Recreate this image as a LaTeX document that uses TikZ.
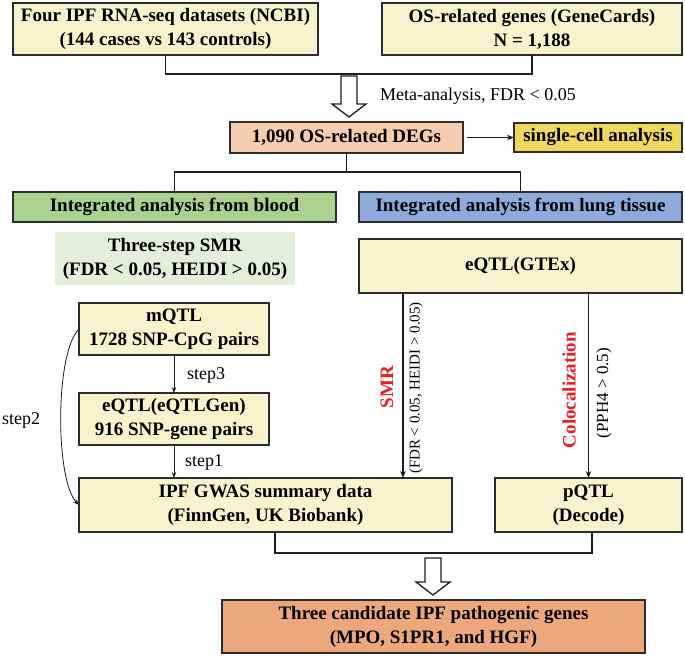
\documentclass[tikz,border=0pt]{standalone}
\usepackage{fontspec}
\setmainfont{Liberation Serif}
\usetikzlibrary{arrows.meta,calc}
\definecolor{cream}{RGB}{249,243,205}
\definecolor{degsfill}{RGB}{246,205,176}
\definecolor{cellfill}{RGB}{239,216,98}
\definecolor{bloodfill}{RGB}{168,210,142}
\definecolor{lungfill}{RGB}{143,170,220}
\definecolor{smrfill}{RGB}{226,240,217}
\definecolor{finalfill}{RGB}{236,168,124}
\definecolor{boxline}{RGB}{45,45,45}
\definecolor{linecol}{RGB}{30,30,30}
\definecolor{redlab}{RGB}{235,30,35}
\begin{document}
\begin{tikzpicture}[x=1pt,y=-1pt,
  base/.style={draw=boxline, line width=1.5pt, inner sep=0pt, outer sep=0pt, align=center,
    font=\fontsize{19}{24}\selectfont\bfseries},
  creambox/.style={base, fill=cream},
  link/.style={draw=linecol, line width=1.5pt},
  arr/.style={draw=linecol, line width=1.3pt, -{Stealth[length=7pt,width=5.5pt]}},
  thinarr/.style={draw=linecol, line width=0.8pt, -{Stealth[length=6pt,width=4.5pt]}},
  lbl/.style={font=\fontsize{18}{20}\selectfont},
  hollow/.style={draw=linecol, line width=1.3pt, fill=white, line join=miter}
]
\useasboundingbox (0,0) rectangle (685,656);
\fill[white] (0,0) rectangle (685,656);

% top boxes
\node[creambox, minimum width=305pt, minimum height=52pt] (box1) at (165.5,29)
  {Four IPF RNA-seq datasets (NCBI)\\(144 cases vs 143 controls)};
\node[creambox, minimum width=300pt, minimum height=52pt] (box2) at (532,29)
  {OS-related genes (GeneCards)\\N = 1,188};
\draw[link] (box1.south) -- ++(0,19) -| (box2.south);

% hollow arrow 1
\draw[hollow] (341,76) -- (357,76) -- (357,104) -- (366,104) -- (349,117) -- (332,104) -- (341,104) -- cycle;
\node[lbl, anchor=west, inner sep=0pt] (meta) at (380,96) {Meta-analysis, FDR < 0.05};

% DEGs
\node[base, fill=degsfill, minimum width=233pt, minimum height=31pt] (degs) at (346.5,137.5)
  {1,090 OS-related DEGs};
\node[base, fill=cellfill, minimum width=168pt, minimum height=29pt] (cell) at (598,137.5)
  {single-cell analysis};
\draw[arr, shorten <=4pt] (degs.east) -- (cell.west);

% branch
\node[base, fill=bloodfill, minimum width=323pt, minimum height=30pt] (blood) at (174.5,207)
  {Integrated analysis from blood};
\node[base, fill=lungfill, minimum width=323pt, minimum height=30pt] (lung) at (520.5,207)
  {Integrated analysis from lung tissue};
\coordinate (br) at (346.5,172);
\draw[link] (degs.south) -- (br);
\draw[link] (blood.north) |- (br) -| (lung.north);

% left column
\node[base, draw=none, fill=smrfill, minimum width=240pt, minimum height=53pt] (smr3) at (175,258.5)
  {Three-step SMR\\(FDR < 0.05, HEIDI > 0.05)};
\node[creambox, minimum width=190pt, minimum height=52pt] (mqtl) at (174,329)
  {mQTL\\1728 SNP-CpG pairs};
\node[creambox, minimum width=190pt, minimum height=52pt] (eqgen) at (174,419)
  {eQTL(eQTLGen)\\916 SNP-gene pairs};
\node[creambox, minimum width=373pt, minimum height=54pt] (gwas) at (265.5,505)
  {IPF GWAS summary data\\(FinnGen, UK Biobank)};

\draw[thinarr] (mqtl.south) -- (eqgen.north);
\draw[thinarr] (eqgen.south) -- (eqgen.south |- gwas.north);
\draw[thinarr] (mqtl.west) .. controls (55,352) and (55,480) .. (gwas.west);
\node[lbl] (s3) at (206,375) {step3};
\node[lbl] (s1) at (204,462) {step1};
\node[lbl] (s2) at (21,420) {step2};

% right column
\node[creambox, minimum width=323pt, minimum height=54pt] (gtex) at (520.5,266)
  {eQTL(GTEx)};
\node[creambox, minimum width=187pt, minimum height=54pt] (pqtl) at (588.5,505)
  {pQTL\\(Decode)};
\coordinate (smrx) at (403,0);
\draw[arr] (gtex.south -| smrx) -- (gwas.north -| smrx);
\draw[arr] (gtex.south -| pqtl.north) -- (pqtl.north);
\node[rotate=90, text=redlab, font=\fontsize{19}{20}\selectfont\bfseries] (smrlab) at (387,387) {SMR};
\node[rotate=90, font=\fontsize{15}{16}\selectfont] (smrcond) at (416,388) {(FDR < 0.05, HEIDI > 0.05)};
\node[rotate=90, text=redlab, font=\fontsize{19}{20}\selectfont\bfseries] (colab) at (569,390) {Colocalization};
\node[rotate=90, font=\fontsize{17}{18}\selectfont] (cocond) at (604,393) {(PPH4 > 0.5)};

% bottom
\draw[link] ($(gwas.south)+(9.5,0)$) -- ++(0,21) -| ($(pqtl.south)+(3.5,0)$);
\draw[hollow] (425,558) -- (441,558) -- (441,582) -- (450,582) -- (433,595) -- (416,582) -- (425,582) -- cycle;
\node[base, fill=finalfill, minimum width=423pt, minimum height=53pt] (final) at (433.5,626.5)
  {Three candidate IPF pathogenic genes\\(MPO, S1PR1, and HGF)};
\end{tikzpicture}
\end{document}
